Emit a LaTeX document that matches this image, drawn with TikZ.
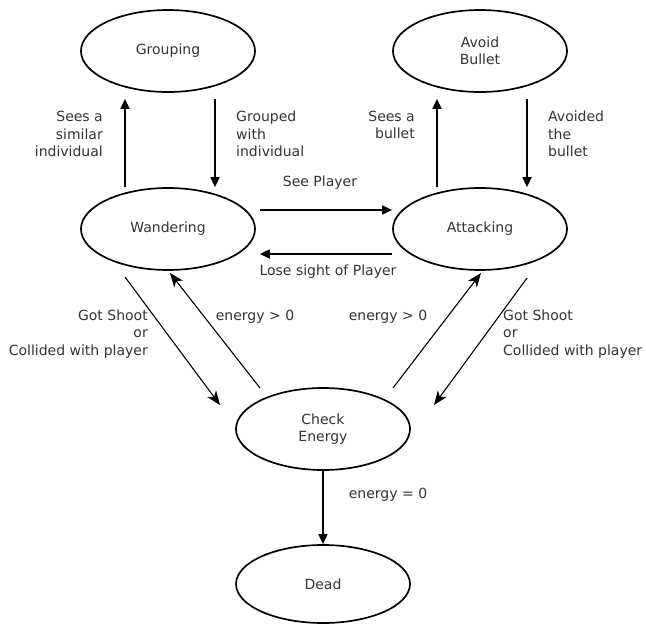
\documentclass[tikz,border=0pt]{standalone}
\usepackage{fontspec}
\setmainfont{DejaVu Sans}
\usetikzlibrary{shapes.geometric,arrows.meta}

\begin{document}
\begin{tikzpicture}[x=1pt, y=-1pt,
    state/.style={ellipse, draw, line width=1.7pt, minimum width=174pt,
        minimum height=82pt, inner sep=0pt, align=center,
        font=\fontsize{14}{17.5}\selectfont, text=black!80},
    bigarrow/.style={-{Triangle[length=10pt,width=9pt]}, line width=1.7pt},
    thinarrow/.style={-{Stealth[length=14pt,width=11pt,inset=4pt]}, line width=1.1pt},
    txt/.style={font=\fontsize{14}{17.5}\selectfont, text=black!80, inner sep=0pt},
]
\useasboundingbox (0,0) rectangle (646,624);

%% --- states ---
\node[state] (grp) at (168,51)  {Grouping};
\node[state] (avd) at (480,51)  {Avoid\\Bullet};
\node[state] (wan) at (168,229) {Wandering};
\node[state] (att) at (480,229) {Attacking};
\node[state] (chk) at (323,429) {Check\\Energy};
\node[state, minimum height=78pt] (ded) at (323,584) {Dead};

%% --- grouping loop ---
\draw[bigarrow, shorten >=6pt] ([xshift=-43pt]wan.north) -- ([xshift=-43pt]grp.south);
\draw[bigarrow, shorten <=6pt] ([xshift=47pt]grp.south) -- ([xshift=47pt]wan.north);
\node[txt, align=right, anchor=east] (lsim) at (103,134) {Sees a\\similar\\individual};
\node[txt, align=left, anchor=west] (lgrp) at (236,134) {Grouped\\with\\individual};

%% --- bullet loop ---
\draw[bigarrow, shorten >=6pt] ([xshift=-43pt]att.north) -- ([xshift=-43pt]avd.south);
\draw[bigarrow, shorten <=6pt] ([xshift=47pt]avd.south) -- ([xshift=47pt]att.north);
\node[txt, align=right, anchor=east] (lsee) at (415,125) {Sees a\\bullet};
\node[txt, align=left, anchor=west] (lavd) at (548,134) {Avoided\\the\\bullet};

%% --- wandering <-> attacking ---
\draw[bigarrow, shorten <=4pt] ([yshift=19pt]wan.east) -- ([yshift=19pt]att.west);
\draw[bigarrow, shorten >=4pt] ([yshift=-25pt]att.west) -- ([yshift=-25pt]wan.east);
\node[txt] (lply) at (320,183) {See Player};
\node[txt] (llos) at (328,272) {Lose sight of Player};

%% --- to and from check energy ---
\draw[thinarrow] ([shift={(-43,48)}]wan.center) -- ([shift={(-103,-24)}]chk.center);
\draw[thinarrow] ([shift={(-63,-41)}]chk.center) -- ([shift={(2,44)}]wan.center);
\draw[thinarrow] ([shift={(70,-41)}]chk.center) -- ([shift={(1,44)}]att.center);
\draw[thinarrow] ([shift={(47,49)}]att.center) -- ([shift={(111,-24)}]chk.center);
\node[txt, align=right, anchor=east] (lhitl) at (148,334) {Got Shoot\\or\\Collided with player};
\node[txt] (lenl) at (255,317) {energy > 0};
\node[txt] (lenr) at (388,317) {energy > 0};
\node[txt, align=left, anchor=west] (lhitr) at (503,334) {Got Shoot\\or\\Collided with player};

%% --- dead ---
\draw[bigarrow] (chk.south) -- (ded.north);
\node[txt] (lzero) at (388,495) {energy = 0};

\end{tikzpicture}
\end{document}
